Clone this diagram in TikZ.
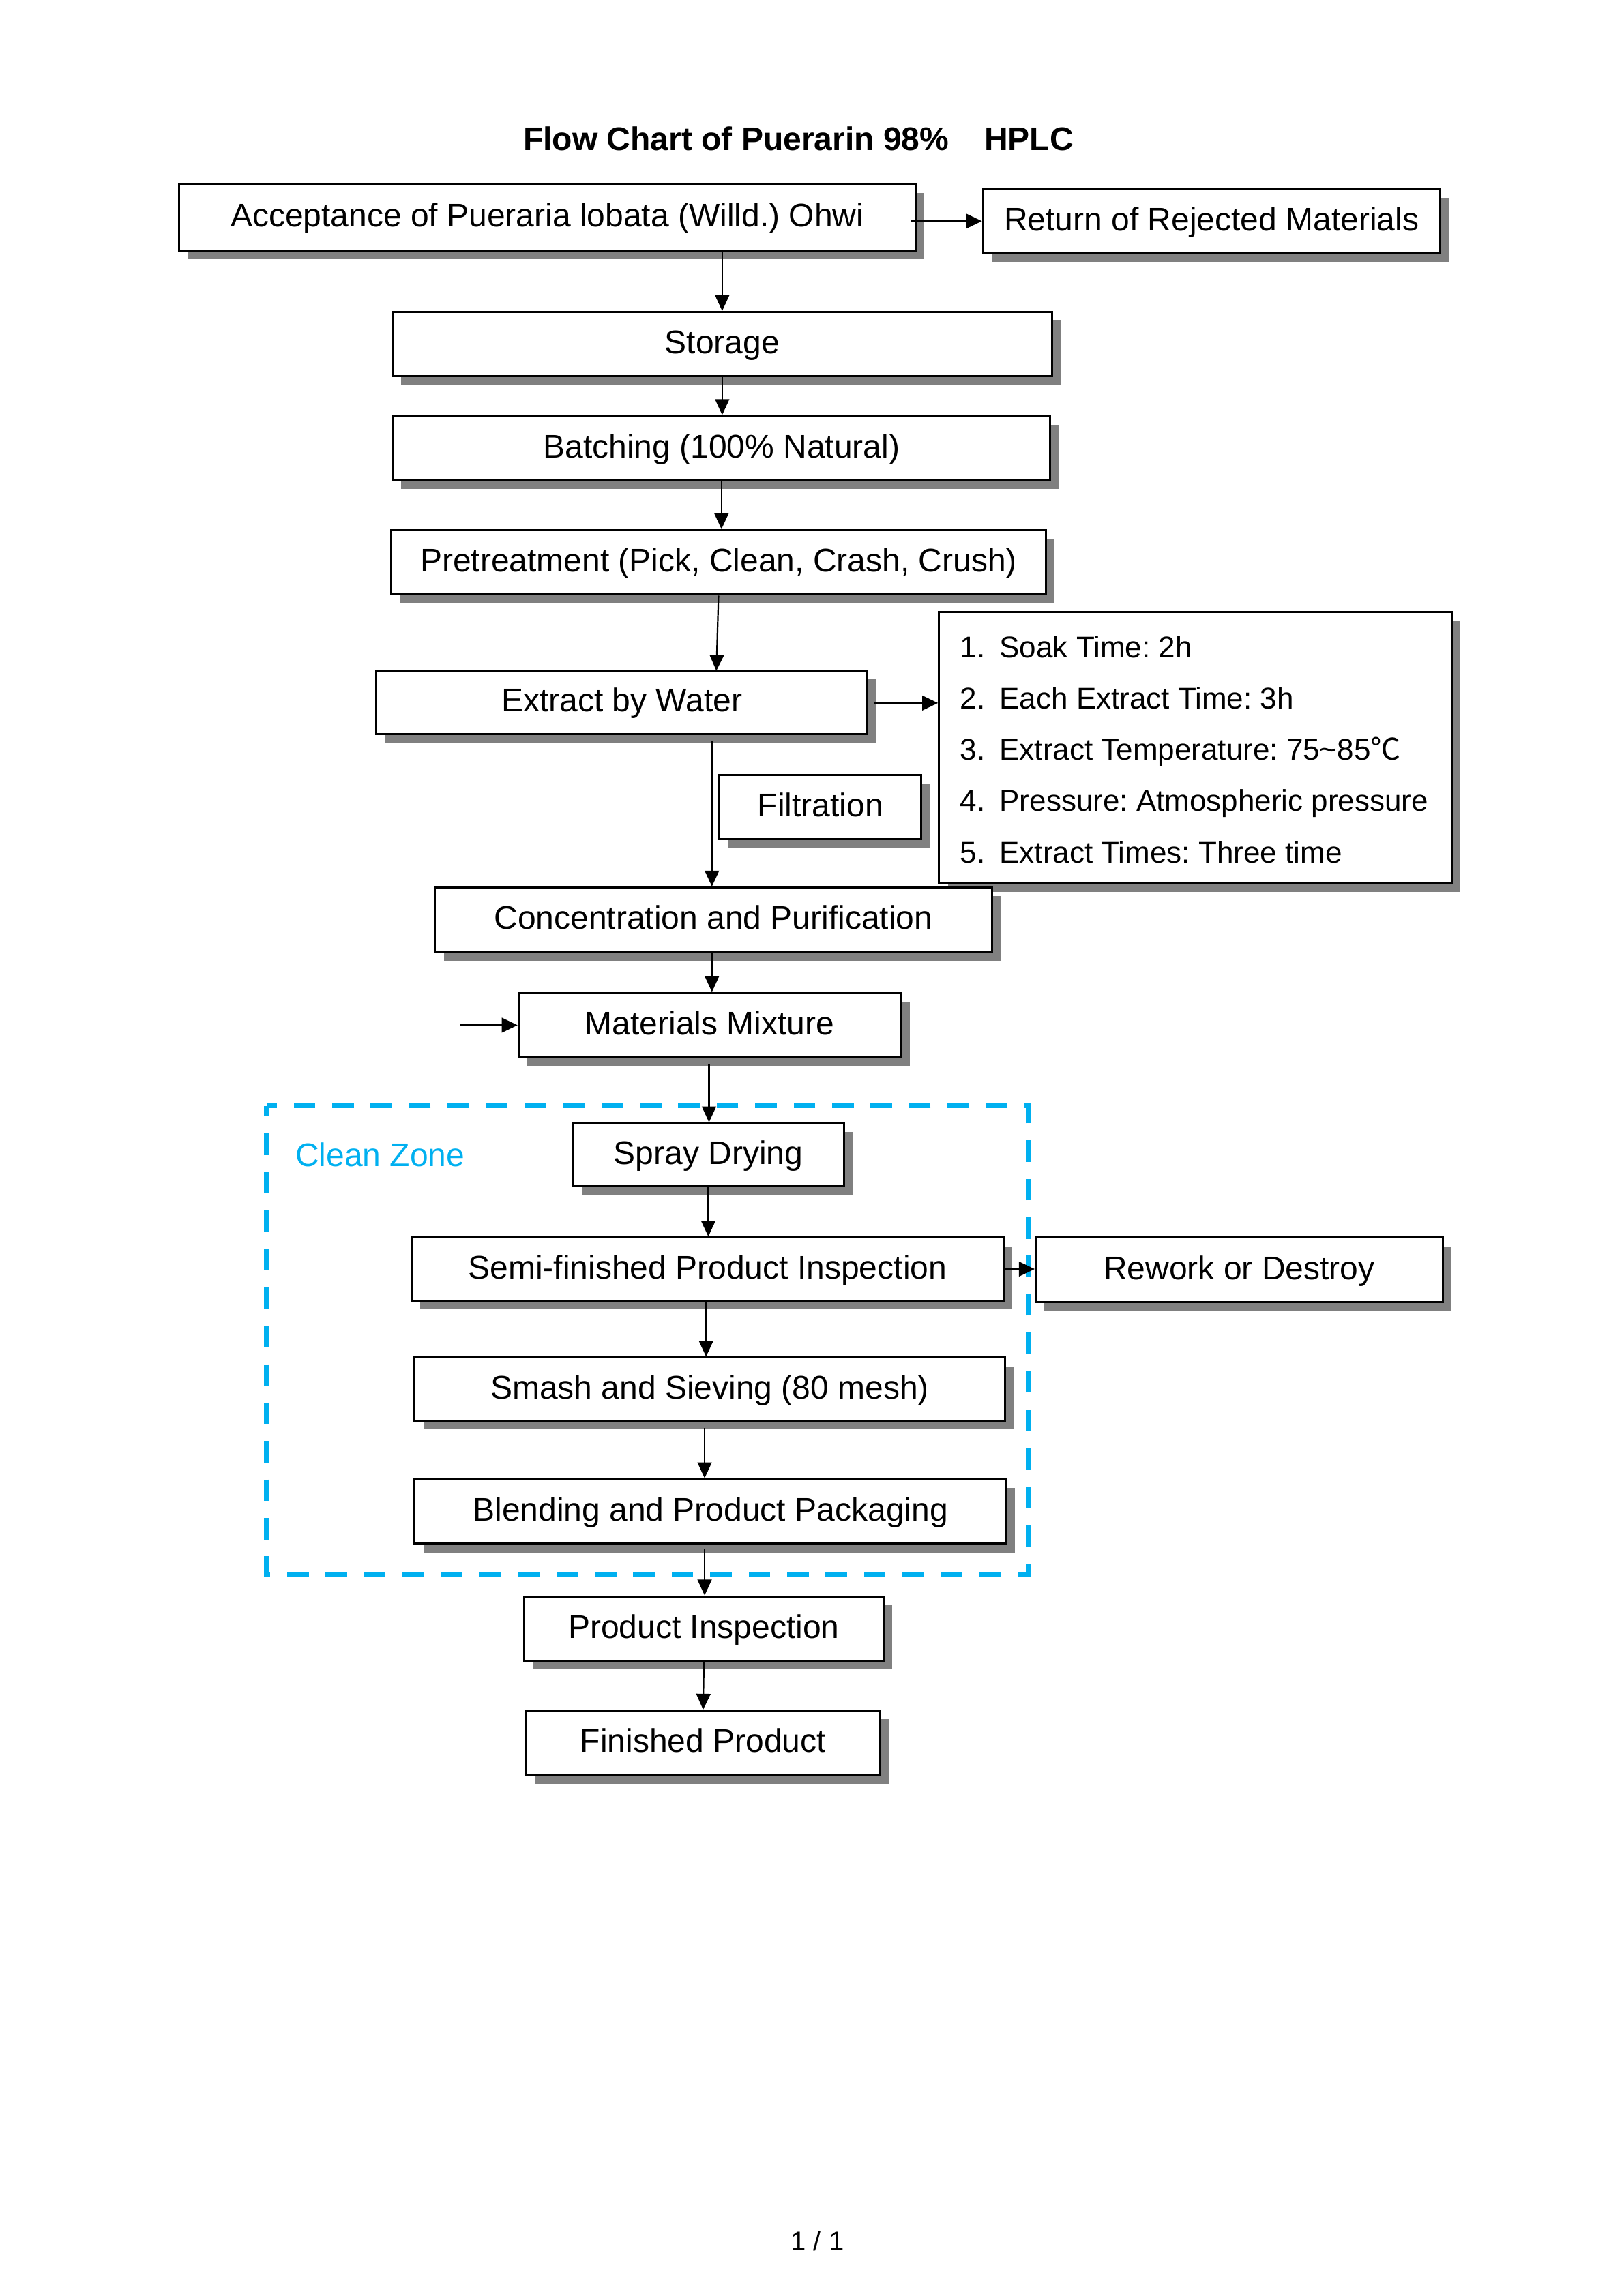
\documentclass[tikz,border=0pt]{standalone}
\usepackage{fontspec}
\setmainfont{Liberation Sans}
\newfontfamily\cjk{Noto Sans CJK SC}
\usetikzlibrary{arrows.meta,shadows}
\definecolor{cleancyan}{RGB}{0,176,240}
\definecolor{shadowgray}{RGB}{128,128,128}
\frenchspacing
\begin{document}
\begin{tikzpicture}[x=0.537pt,y=-0.537pt,
  font=\fontsize{12pt}{14pt}\selectfont,
  flowbox/.style 2 args={draw=black, line width=0.75pt, fill=white, inner sep=0pt,
    minimum width=#1*0.537pt, minimum height=#2*0.537pt,
    text height=0.7em, text depth=0pt,
    general shadow={fill=shadowgray, shadow xshift=3.2pt, shadow yshift=-3.2pt}},
  varrow/.style={draw=black, line width=0.55pt, -{Triangle[length=5.8pt,width=5.2pt]}},
  harrow/.style={draw=black, line width=0.6pt, -{Triangle[length=5.8pt,width=5.4pt]}},
  paritem/.style={anchor=base west, inner sep=0pt, font=\fontsize{11pt}{13pt}\selectfont},
]
\useasboundingbox (0,0) rectangle (1108.6,1567.7);
\fill[white] (0,0) rectangle (1108.6,1567.7);

% title
\node[font=\fontsize{12pt}{14pt}\selectfont\bfseries, inner sep=0pt, text height=0.7em, text depth=0pt] (title) at (545,96)
  {Flow Chart of Puerarin 98\%\hspace{13pt}HPLC};

% clean zone
\draw[cleancyan, line width=1.8pt, dash pattern=on 7.9pt off 6.2pt, dash phase=3.95pt] (182,755) rectangle (702,1075);
\node[text=cleancyan, inner sep=0pt, text height=0.7em, text depth=0pt] (cz) at (259.5,790) {Clean Zone};

% boxes
\node[flowbox={503}{45}] (acc) at (373.5,148.5) {Acceptance of Pueraria lobata (Willd.) Ohwi};
\node[flowbox={312}{44}] (ret) at (827,151) {Return of Rejected Materials};
\node[flowbox={450}{44}] (sto) at (493,235) {Storage};
\node[flowbox={449}{44}] (bat) at (492.5,306) {Batching (100\% Natural)};
\node[flowbox={447}{44}] (pre) at (490.5,384) {Pretreatment (Pick, Clean, Crash, Crush)};
\node[flowbox={335}{43}] (ext) at (424.5,479.5) {Extract by Water};
\node[flowbox={350}{185}] (par) at (816,510.5) {};
\node[flowbox={138}{44}] (fil) at (560,551) {Filtration};
\node[flowbox={380}{44}] (con) at (487,628) {Concentration and Purification};
\node[flowbox={261}{44}] (mix) at (484.5,700) {Materials Mixture};
\node[flowbox={185}{43}] (spr) at (483.5,788.5) {Spray Drying};
\node[flowbox={404}{43}] (sem) at (483,866.5) {Semi-finished Product Inspection};
\node[flowbox={278}{44}] (rew) at (846,867) {Rework or Destroy};
\node[flowbox={403}{43}] (sma) at (484.5,948.5) {Smash and Sieving (80 mesh)};
\node[flowbox={404}{44}] (ble) at (485,1032) {Blending and Product Packaging};
\node[flowbox={245}{44}] (pin) at (480.5,1112) {Product Inspection};
\node[flowbox={242}{44}] (fin) at (480,1190) {Finished Product};

% parameter list
\node[paritem] (n1) at (655,449) {1.};
\node[paritem] (t1) at (682,449) {Soak Time: 2h};
\node[paritem] (n2) at (655,484) {2.};
\node[paritem] (t2) at (682,484) {Each Extract Time: 3h};
\node[paritem] (n3) at (655,519) {3.};
\node[paritem] (t3) at (682,519) {Extract Temperature: 75\textasciitilde85{\cjk ℃}};
\node[paritem] (n4) at (655,554) {4.};
\node[paritem] (t4) at (682,554) {Pressure: Atmospheric pressure};
\node[paritem] (n5) at (655,589) {5.};
\node[paritem] (t5) at (682,589) {Extract Times: Three time};

% connectors
\coordinate (accr) at (622,151);
\draw[harrow] (accr) -- (accr -| ret.west);
\draw[varrow] (sto.north |- acc.south) -- (sto.north);
\draw[varrow] (sto.south) -- (sto.south |- bat.north);
\draw[varrow] (bat.south) -- (bat.south |- pre.north);
\coordinate (extt) at (489,458);
\draw[varrow] (pre.south) -- (extt);
\coordinate (extr) at (597,480);
\draw[harrow] (extr) -- (extr -| par.west);
\coordinate (extb) at (486,506);
\draw[varrow] (extb) -- (extb |- con.north);
\coordinate (conb) at (486,650);
\draw[varrow] (conb) -- (conb |- mix.north);
\coordinate (mixin) at (314,700);
\draw[harrow] (mixin) -- (mix.west);
\coordinate (mixb) at (484,727);
\draw[varrow] (mixb) -- (mixb |- spr.north);
\draw[varrow] (spr.south) -- (spr.south |- sem.north);
\draw[harrow] (sem.east) -- (sem.east -| rew.west);
\coordinate (semb) at (482,888);
\draw[varrow] (semb) -- (semb |- sma.north);
\coordinate (smab) at (481,975);
\draw[varrow] (smab) -- (smab |- ble.north);
\coordinate (bleb) at (481,1058);
\draw[varrow] (bleb) -- (bleb |- pin.north);
\draw[varrow] (pin.south) -- (fin.north);

% page number
\node[font=\fontsize{10pt}{12pt}\selectfont, inner sep=0pt, text height=0.7em, text depth=0pt] (pg) at (558,1530) {1 / 1};
\end{tikzpicture}
\end{document}
